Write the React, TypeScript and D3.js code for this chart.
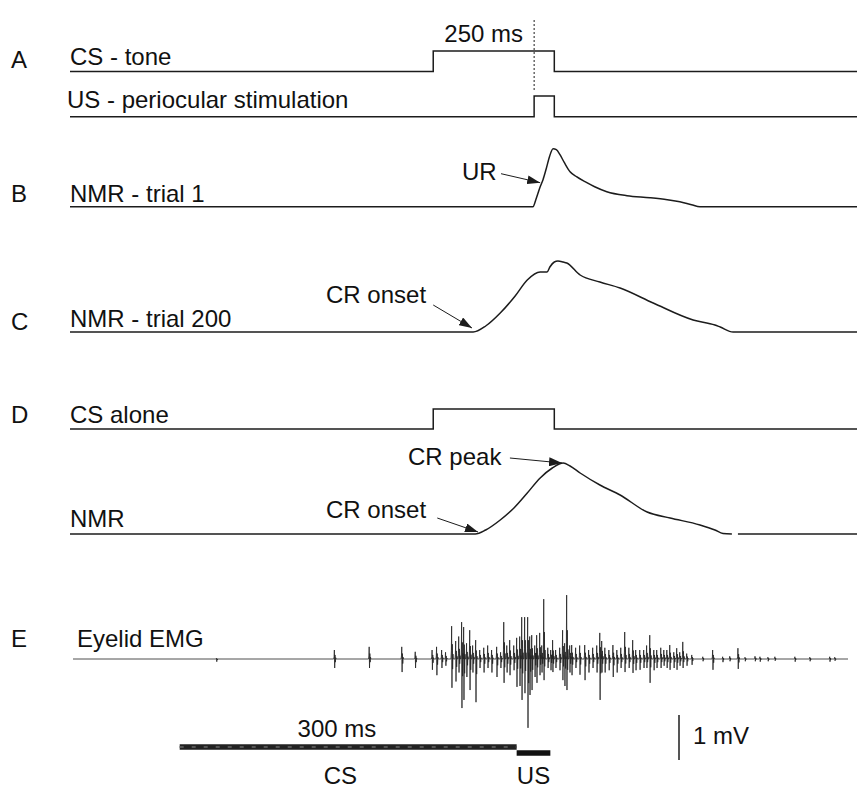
import React from 'react'
import * as d3 from 'd3'

// time in ms, 0 = CS onset
const timeDomain = [-900, 1050]
const csSteps = [[-900, 0], [0, 1], [300, 0], [1050, 0]]
const usSteps = [[-900, 0], [250, 1], [300, 0], [1050, 0]]

// NMR traces: [ms, mm]
const nmrTrial1 = [
  [-900, 0], [247, 0], [255, 0.8], [265, 2.0], [272, 2.7], [280, 3.8], [288, 5.0], [297, 5.8],
  [305, 5.7], [314, 5.2], [325, 4.4], [339, 3.5], [355, 3.0], [376, 2.5], [400, 2.0], [430, 1.5],
  [480, 1.1], [537, 0.9], [580, 0.7], [611, 0.5], [640, 0.2], [661, 0], [1050, 0]
]
const nmrTrial200 = [
  [-900, 0], [99, 0], [130, 0.6], [166, 1.9], [203, 3.6], [233, 5.2], [265, 6.0], [282, 6.0],
  [289, 6.5], [300, 7.0], [309, 7.1], [322, 7.0], [331, 6.9], [364, 5.7], [413, 5.0], [463, 4.4],
  [545, 2.9], [644, 1.2], [698, 0.7], [711, 0.5], [743, 0], [1050, 0]
]
const nmrCsAlone = [
  [-900, 0], [104, 0], [130, 0.4], [166, 1.4], [200, 2.6], [233, 4.1], [265, 5.6], [295, 6.6],
  [322, 7.1], [339, 6.8], [364, 6.1], [413, 4.9], [463, 3.9], [530, 2.2], [587, 1.6], [661, 0.9],
  [698, 0.4], [718, 0.05], [740, 0]
]
const nmrCsAloneTail = [[755, 0], [1050, 0]]

// eyelid EMG spikes: [ms, up mV, down mV], 0 = CS onset
const emgDomain = [-95, 595]
const emgSpikes = [
  [33, 0.02, -0.06], [138, 0.2, -0.2], [169, 0.27, -0.2], [198, 0.27, -0.29], [210, 0.16, -0.2],
  [225, 0.2, -0.24], [229, 0.27, -0.36], [233.5, 0.2, -0.2], [237, 0.15, -0.15], [242.4, 0.73, -0.64],
  [246, 0.4, -0.5], [248.7, 0.5, -0.3], [251.3, 0.82, -1.09], [253.1, 0.71, -0.91], [255.7, 0.35, -0.4],
  [258.5, 0.64, -0.69], [261.1, 0.3, -0.3], [263.8, 0.42, -0.96], [267.4, 0.2, -0.2], [271, 0.25, -0.3],
  [274.5, 0.3, -0.2], [278, 0.2, -0.3], [282.5, 0.27, -0.4], [286, 0.15, -0.2], [288.8, 0.82, -0.53],
  [291.5, 0.3, -0.3], [294.1, 0.42, -0.36], [297.7, 0.3, -0.25], [300.3, 0.47, -0.62], [303, 0.5, -0.6],
  [304.8, 0.93, -0.91], [307.4, 0.93, -0.76], [310.1, 0.93, -1.53], [311.9, 0.5, -0.8], [313.7, 0.53, -0.69],
  [316.4, 0.3, -0.4], [318.1, 0.53, -0.53], [320.8, 0.58, -0.36], [322.6, 0.3, -0.3], [324.4, 1.33, -0.47],
  [328, 0.25, -0.2], [330.6, 0.2, -0.25], [332.3, 0.42, -0.29], [335, 0.2, -0.2], [338.6, 0.25, -0.25],
  [341.2, 0.64, -0.47], [343, 0.35, -0.6], [344.8, 1.42, -0.69], [347.5, 0.3, -0.3], [349.3, 0.31, -0.36],
  [352.8, 0.25, -0.2], [356.4, 0.3, -0.35], [360.9, 0.31, -0.47], [364.4, 0.2, -0.3], [368, 0.25, -0.2],
  [371.6, 0.3, -0.3], [374.3, 0.58, -0.91], [376, 0.4, -0.3], [378.8, 0.25, -0.3], [382.4, 0.2, -0.25],
  [386, 0.31, -0.4], [389.5, 0.2, -0.3], [393, 0.25, -0.2], [396.5, 0.6, -0.29], [400.2, 0.25, -0.2],
  [403.6, 0.42, -0.31], [406.3, 0.2, -0.25], [409.9, 0.2, -0.24], [413.4, 0.2, -0.2], [416, 0.3, -0.2],
  [418.8, 0.53, -0.53], [422.4, 0.2, -0.25], [425, 0.2, -0.2], [428.6, 0.25, -0.2], [431.3, 0.2, -0.15],
  [434, 0.2, -0.2], [436.6, 0.31, -0.24], [440.2, 0.15, -0.2], [442.8, 0.24, -0.24], [445.5, 0.15, -0.15],
  [448.2, 0.38, -0.2], [451.7, 0.12, -0.15], [456.2, 0.09, -0.13], [466, 0.05, -0.05], [474.8, 0.2, -0.24],
  [483.7, 0.05, -0.07], [490, 0.06, -0.05], [497.3, 0.24, -0.22], [503.6, 0.04, -0.05], [512.5, 0.06, -0.05],
  [516.9, 0.05, -0.06], [524, 0.04, -0.05], [530.2, 0.05, -0.04], [548, 0.05, -0.06], [561.3, 0.04, -0.05],
  [579, 0.05, -0.06], [583.5, 0.04, -0.04]
]
// shape of one motor-unit spike: [ms offset, share of up (+) / down (-) amplitude]
const spikeShape = [[-0.9, 0], [-0.55, 0.25], [-0.3, 1], [0, -1], [0.3, 0.45], [0.6, -0.35], [0.9, 0.15], [1.2, 0]]
const emgCs = [0, 300]
const emgUs = [300, 330]

const ink = '#1c1c1c'
const font = '"Liberation Sans", Arial, sans-serif'
const fs = 24

export default function App() {
  const width = 862, height = 789

  const x = d3.scaleLinear().domain(timeDomain).range([70, 857])
  const level = (base: number, h: number) => d3.scaleLinear().domain([0, 1]).range([base, base - h])

  const yCsA = level(71.5, 20.5)
  const yUsA = level(116.7, 20.7)
  const yB = level(206.7, 10)
  const yC = level(332, 10)
  const yCsD = level(429, 20)
  const yD = level(534, 10)

  const step = (ys: any) => d3.line<number[]>().x(d => x(d[0])).y(d => ys(d[1])).curve(d3.curveStepAfter)
  const smooth = (ys: any) => d3.line<number[]>().x(d => x(d[0])).y(d => ys(d[1])).curve(d3.curveMonotoneX)

  const ex = d3.scaleLinear().domain(emgDomain).range([73, 848])
  const ey = d3.scaleLinear().domain([0, 1]).range([659, 614])
  const emgPts: number[][] = [[emgDomain[0], 0]]
  emgSpikes.forEach(([t, up, dn]) => {
    spikeShape.forEach(([dt, k]) => emgPts.push([t + dt, k >= 0 ? k * up : -k * dn]))
  })
  emgPts.push([emgDomain[1], 0])
  emgPts.sort((a, b) => a[0] - b[0])
  const emgLine = d3.line<number[]>().x(d => ex(d[0])).y(d => ey(d[1]))
  const mvBar = d3.scaleLinear().domain([0, 1]).range([760, 715])

  const arrow = (ys: any, from: number[], to: number[]) => (
    <line x1={x(from[0])} y1={ys(from[1])} x2={x(to[0])} y2={ys(to[1])}
      stroke={ink} strokeWidth={1} markerEnd="url(#head)" />
  )

  const T = (props: any) => <text fontFamily={font} fontSize={fs} fill="#111" {...props} />

  return (
    <svg width={width} height={height} style={{ display: 'block', position: 'absolute', left: 0, top: 0, background: '#fff' }}>
      <defs>
        <marker id="head" viewBox="0 0 13 9" refX="13" refY="4.5" markerWidth="13" markerHeight="9"
          markerUnits="userSpaceOnUse" orient="auto">
          <path d="M0,0 L13,4.5 L0,9 Z" fill={ink} />
        </marker>
      </defs>

      {/* panel letters */}
      <T x={11} y={68}>A</T>
      <T x={11} y={202}>B</T>
      <T x={11} y={330}>C</T>
      <T x={11} y={423}>D</T>
      <T x={11} y={647}>E</T>

      {/* A */}
      <T x={70} y={65}>CS - tone</T>
      <T x={67} y={108}>US - periocular stimulation</T>
      <T x={x(125)} y={42} textAnchor="middle">250 ms</T>
      <line x1={x(250)} x2={x(250)} y1={20} y2={92} stroke={ink} strokeWidth={1} strokeDasharray="2 2" />
      <path d={step(yCsA)(csSteps) || ''} fill="none" stroke={ink} strokeWidth={1.5} />
      <path d={step(yUsA)(usSteps) || ''} fill="none" stroke={ink} strokeWidth={1.5} />

      {/* B */}
      <T x={70} y={202}>NMR - trial 1</T>
      <path d={smooth(yB)(nmrTrial1) || ''} fill="none" stroke={ink} strokeWidth={1.5} />
      <T x={462} y={180}>UR</T>
      {arrow(yB, [168, 3.3], [265, 2.4])}

      {/* C */}
      <T x={70} y={327}>NMR - trial 200</T>
      <path d={smooth(yC)(nmrTrial200) || ''} fill="none" stroke={ink} strokeWidth={1.5} />
      <T x={326} y={303}>CR onset</T>
      {arrow(yC, [0, 2.7], [96, 0.4])}

      {/* D */}
      <T x={70} y={423}>CS alone</T>
      <path d={step(yCsD)(csSteps) || ''} fill="none" stroke={ink} strokeWidth={1.5} />
      <T x={70} y={527}>NMR</T>
      <path d={smooth(yD)(nmrCsAlone) || ''} fill="none" stroke={ink} strokeWidth={1.5} />
      <path d={smooth(yD)(nmrCsAloneTail) || ''} fill="none" stroke={ink} strokeWidth={1.5} />
      <T x={408} y={465}>CR peak</T>
      {arrow(yD, [190, 7.6], [319, 7.1])}
      <T x={326} y={518}>CR onset</T>
      {arrow(yD, [10, 1.6], [111, 0.2])}

      {/* E */}
      <T x={77} y={647}>Eyelid EMG</T>
      <path d={emgLine(emgPts) || ''} fill="none" stroke="#222" strokeWidth={0.8} />

      {/* time bars */}
      <line x1={ex(emgCs[0])} x2={ex(emgCs[1])} y1={747} y2={747} stroke="#222" strokeWidth={5.5} />
      <line x1={ex(emgCs[0])} x2={ex(emgCs[1])} y1={747} y2={747} stroke="#555" strokeWidth={2} strokeDasharray="4 8" />
      <line x1={ex(emgUs[0])} x2={ex(emgUs[1])} y1={753} y2={753} stroke="#111" strokeWidth={5.5} />
      <T x={ex(140)} y={737} textAnchor="middle">300 ms</T>
      <T x={ex(143)} y={784} textAnchor="middle">CS</T>
      <T x={ex(315)} y={784} textAnchor="middle">US</T>

      {/* 1 mV scale */}
      <line x1={679} x2={679} y1={mvBar(0)} y2={mvBar(1)} stroke={ink} strokeWidth={1.5} />
      <T x={693} y={744}>1 mV</T>
    </svg>
  )
}
